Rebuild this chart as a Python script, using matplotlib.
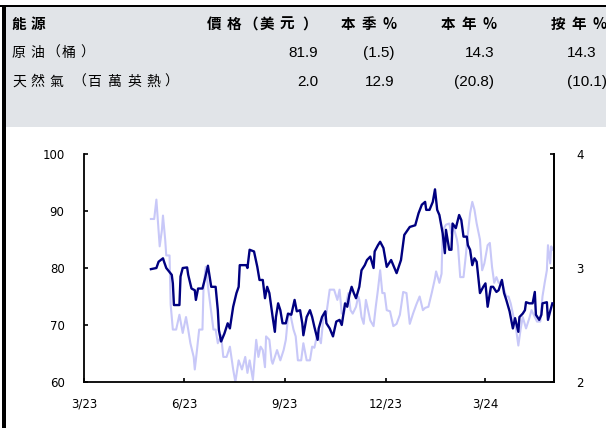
import matplotlib
matplotlib.use('Agg')
import matplotlib.pyplot as plt
import pandas as pd
from matplotlib.patches import Rectangle

# table
headers = ['能源', '價格（美元）', '本季%', '本年%', '按年%']
names = ['原油（桶）', '天然氣（百萬英熱）']
price = ['81.9', '2.0']
qtr_chg = ['(1.5)', '12.9']
ytd_chg = ['14.3', '(20.8)']
yoy_chg = ['14.3', '(10.1)']

# crude oil, USD/bbl (left axis)
oil_dates = ['2023-05-31', '2023-06-05', '2023-06-07', '2023-06-11', '2023-06-12', '2023-06-14',
             '2023-06-19', '2023-06-20', '2023-06-21', '2023-06-26', '2023-06-27', '2023-06-29',
             '2023-07-03', '2023-07-04', '2023-07-07', '2023-07-10', '2023-07-11', '2023-07-13',
             '2023-07-17', '2023-07-19', '2023-07-22', '2023-07-24', '2023-07-25', '2023-07-29',
             '2023-07-31', '2023-08-01', '2023-08-03', '2023-08-06', '2023-08-09', '2023-08-11',
             '2023-08-14', '2023-08-17', '2023-08-19', '2023-08-20', '2023-08-26', '2023-08-27',
             '2023-08-29', '2023-09-02', '2023-09-05', '2023-09-07', '2023-09-10', '2023-09-12',
             '2023-09-14', '2023-09-16', '2023-09-19', '2023-09-21', '2023-09-22', '2023-09-24',
             '2023-09-26', '2023-09-28', '2023-10-01', '2023-10-03', '2023-10-06', '2023-10-09',
             '2023-10-11', '2023-10-14', '2023-10-16', '2023-10-17', '2023-10-20', '2023-10-23',
             '2023-10-25', '2023-10-27', '2023-10-30', '2023-10-31', '2023-11-03', '2023-11-06',
             '2023-11-07', '2023-11-10', '2023-11-13', '2023-11-16', '2023-11-19', '2023-11-21',
             '2023-11-24', '2023-11-26', '2023-11-28', '2023-11-30', '2023-12-02', '2023-12-04',
             '2023-12-07', '2023-12-09', '2023-12-12', '2023-12-14', '2023-12-17', '2023-12-20',
             '2023-12-21', '2023-12-24', '2023-12-26', '2023-12-29', '2024-01-01', '2024-01-05',
             '2024-01-10', '2024-01-14', '2024-01-17', '2024-01-22', '2024-01-27', '2024-01-30',
             '2024-02-02', '2024-02-05', '2024-02-06', '2024-02-09', '2024-02-12', '2024-02-14',
             '2024-02-16', '2024-02-18', '2024-02-21', '2024-02-23', '2024-02-24', '2024-02-27',
             '2024-02-29', '2024-03-01', '2024-03-04', '2024-03-07', '2024-03-09', '2024-03-11',
             '2024-03-14', '2024-03-15', '2024-03-17', '2024-03-19', '2024-03-21', '2024-03-23',
             '2024-03-26', '2024-03-29', '2024-03-31', '2024-04-02', '2024-04-05', '2024-04-07',
             '2024-04-10', '2024-04-12', '2024-04-15', '2024-04-17', '2024-04-19', '2024-04-22',
             '2024-04-25', '2024-04-27', '2024-04-30', '2024-05-01', '2024-05-04', '2024-05-06',
             '2024-05-07', '2024-05-10', '2024-05-13', '2024-05-15', '2024-05-16', '2024-05-19',
             '2024-05-21', '2024-05-22', '2024-05-26', '2024-05-27', '2024-05-29', '2024-05-31']
oil_price = [79.8, 80.0, 81.1, 81.7, 81.1, 80.0,
             78.8, 77.3, 73.5, 73.5, 78.5, 80.0,
             80.1, 78.8, 76.4, 76.1, 74.4, 76.4,
             76.4, 77.9, 80.4, 77.9, 76.7, 76.7,
             72.6, 69.1, 67.1, 68.5, 70.3, 69.4,
             73.2, 75.6, 76.7, 80.5, 80.5, 80.0,
             83.2, 82.9, 80.2, 77.9, 77.9, 74.7,
             76.7, 75.6, 71.4, 68.8, 71.4, 73.8,
             72.6, 70.3, 70.3, 72.0, 71.8, 74.4,
             72.4, 72.6, 70.3, 68.2, 71.4, 72.6,
             71.4, 69.7, 67.4, 69.4, 71.4, 72.4,
             70.3, 69.4, 68.0, 70.6, 70.9, 70.0,
             73.8, 73.2, 75.3, 76.7, 75.6, 74.7,
             76.7, 79.6, 80.5, 81.4, 82.0, 80.0,
             82.9, 84.0, 84.6, 83.5, 80.2, 81.4,
             79.1, 81.4, 85.8, 87.2, 87.5, 89.6,
             91.1, 91.6, 90.2, 90.2, 91.6, 93.8,
             90.2, 89.3, 86.1, 82.6, 86.7, 83.2,
             83.2, 87.8, 87.0, 89.3, 88.4, 85.5,
             85.5, 84.0, 83.2, 80.5, 81.7, 81.1,
             75.6, 76.7, 77.3, 73.2, 76.7, 76.7,
             75.8, 76.1, 77.9, 75.6, 74.4, 72.4,
             69.4, 71.2, 68.8, 71.4, 72.0, 72.6,
             74.0, 73.8, 73.8, 75.8, 71.8, 70.9,
             71.8, 73.8, 74.0, 70.9, 72.4, 73.8]

# natural gas, USD/mmBtu (right axis)
gas_dates = ['2023-05-31', '2023-06-03', '2023-06-05', '2023-06-07', '2023-06-08', '2023-06-10',
             '2023-06-11', '2023-06-13', '2023-06-14', '2023-06-17', '2023-06-18', '2023-06-20',
             '2023-06-23', '2023-06-26', '2023-06-29', '2023-07-02', '2023-07-04', '2023-07-06',
             '2023-07-09', '2023-07-10', '2023-07-12', '2023-07-14', '2023-07-17', '2023-07-18',
             '2023-07-20', '2023-07-22', '2023-07-24', '2023-07-27', '2023-07-29', '2023-07-31',
             '2023-08-03', '2023-08-05', '2023-08-08', '2023-08-11', '2023-08-14', '2023-08-16',
             '2023-08-19', '2023-08-22', '2023-08-25', '2023-08-27', '2023-08-29', '2023-09-01',
             '2023-09-04', '2023-09-06', '2023-09-08', '2023-09-10', '2023-09-12', '2023-09-13',
             '2023-09-16', '2023-09-18', '2023-09-19', '2023-09-23', '2023-09-26', '2023-09-29',
             '2023-10-01', '2023-10-03', '2023-10-05', '2023-10-08', '2023-10-10', '2023-10-12',
             '2023-10-15', '2023-10-17', '2023-10-20', '2023-10-23', '2023-10-25', '2023-10-27',
             '2023-10-30', '2023-11-02', '2023-11-04', '2023-11-07', '2023-11-10', '2023-11-14',
             '2023-11-17', '2023-11-19', '2023-11-21', '2023-11-23', '2023-11-25', '2023-11-27',
             '2023-11-29', '2023-12-01', '2023-12-04', '2023-12-06', '2023-12-07', '2023-12-09',
             '2023-12-11', '2023-12-13', '2023-12-15', '2023-12-17', '2023-12-20', '2023-12-22',
             '2023-12-24', '2023-12-26', '2023-12-28', '2023-12-30', '2024-01-01', '2024-01-04',
             '2024-01-07', '2024-01-10', '2024-01-13', '2024-01-16', '2024-01-19', '2024-01-22',
             '2024-01-25', '2024-01-28', '2024-01-31', '2024-02-03', '2024-02-05', '2024-02-08',
             '2024-02-11', '2024-02-14', '2024-02-15', '2024-02-18', '2024-02-20', '2024-02-21',
             '2024-02-24', '2024-02-27', '2024-02-29', '2024-03-02', '2024-03-05', '2024-03-06',
             '2024-03-08', '2024-03-11', '2024-03-13', '2024-03-15', '2024-03-17', '2024-03-19',
             '2024-03-21', '2024-03-23', '2024-03-26', '2024-03-28', '2024-03-30', '2024-04-02',
             '2024-04-04', '2024-04-06', '2024-04-08', '2024-04-10', '2024-04-12', '2024-04-15',
             '2024-04-17', '2024-04-19', '2024-04-21', '2024-04-23', '2024-04-25', '2024-04-28',
             '2024-04-30', '2024-05-02', '2024-05-04', '2024-05-07', '2024-05-10', '2024-05-12',
             '2024-05-15', '2024-05-17', '2024-05-20', '2024-05-22', '2024-05-24', '2024-05-26',
             '2024-05-27', '2024-05-29', '2024-05-30', '2024-05-31']
gas_price = [3.43, 3.43, 3.60, 3.33, 3.19, 3.33,
             3.46, 3.25, 3.11, 3.11, 2.68, 2.46,
             2.46, 2.59, 2.43, 2.57, 2.46, 2.34,
             2.22, 2.11, 2.28, 2.46, 2.46, 2.84,
             3.01, 2.84, 2.69, 2.46, 2.46, 2.34,
             2.41, 2.22, 2.22, 2.31, 2.11, 2.00,
             2.19, 2.11, 2.22, 2.08, 2.19, 2.02,
             2.37, 2.22, 2.31, 2.28, 2.13, 2.40,
             2.37, 2.19, 2.16, 2.28, 2.19, 2.28,
             2.37, 2.57, 2.60, 2.46, 2.40, 2.19,
             2.19, 2.34, 2.19, 2.19, 2.31, 2.30,
             2.43, 2.34, 2.54, 2.60, 2.81, 2.81,
             2.72, 2.81, 2.60, 2.60, 2.69, 2.78,
             2.63, 2.60, 2.66, 2.75, 2.72, 2.57,
             2.51, 2.72, 2.63, 2.54, 2.49, 2.66,
             2.81, 2.98, 2.78, 2.78, 2.63, 2.62,
             2.49, 2.51, 2.59, 2.79, 2.78, 2.51,
             2.60, 2.68, 2.75, 2.63, 2.65, 2.66,
             2.78, 2.91, 2.97, 2.87, 2.95, 3.33,
             3.38, 3.39, 3.30, 3.36, 3.25, 3.19,
             2.92, 2.92, 3.10, 3.30, 3.48, 3.58,
             3.51, 3.39, 3.25, 2.98, 3.04, 3.20,
             3.22, 3.01, 2.87, 2.92, 2.87, 2.88,
             2.81, 2.75, 2.75, 2.69, 2.60, 2.46,
             2.32, 2.46, 2.57, 2.47, 2.56, 2.63,
             2.57, 2.53, 2.53, 2.75, 2.87, 2.98,
             3.20, 3.04, 3.19, 3.16]

tick_dates = ['2023-03-31', '2023-06-30', '2023-09-30', '2023-12-31', '2024-03-31']
tick_labels = ['3/23', '6/23', '9/23', '12/23', '3/24']

W, H = 606, 428
cjk = ['Noto Sans CJK TC', 'DejaVu Sans']
num_font = 'Liberation Sans'

fig = plt.figure(figsize=(W / 100, H / 100), dpi=100)

def fx(x):
    return x / W

def fy(y):
    return 1 - y / H

def glyphs(xs, y, s, **kw):
    # draw CJK text one glyph at a time so the wide letter spacing matches
    for x, ch in zip(xs, s):
        fig.text(fx(x), fy(y), ch, family=cjk, ha='center', va='center', **kw)

def spaced(x0, y, s, pitch, **kw):
    glyphs([x0 + pitch * (i + 0.5) for i in range(len(s))], y, s, **kw)

# grey table panel + borders
fig.patches.append(Rectangle((fx(4), fy(127)), 1, fy(7) - fy(127), transform=fig.transFigure,
                             facecolor='#e1e4e8', edgecolor='none', zorder=0))
fig.patches.append(Rectangle((0, fy(7)), 1, fy(5) - fy(7), transform=fig.transFigure,
                             facecolor='black', edgecolor='none', zorder=1))
fig.patches.append(Rectangle((fx(2), 0), fx(4), fy(5), transform=fig.transFigure,
                             facecolor='black', edgecolor='none', zorder=1))

# header row
hdr = dict(fontsize=10.5, fontweight='bold')
spaced(9, 24, headers[0], 19.5, **hdr)
glyphs([214, 234, 251, 267, 287, 310], 24, headers[1], **hdr)
spaced(338, 24, headers[2], 20.5, **hdr)
spaced(437, 24, headers[3], 21, **hdr)
spaced(548, 24, headers[4], 20.5, **hdr)

# row labels
glyphs([18.5, 37.5, 53.5, 69, 87.5], 53, names[0], fontsize=10)
glyphs([19, 37.5, 56, 79, 94, 114, 134, 153.5, 171], 82, names[1], fontsize=10)

row_y = [53, 82]
for i in range(2):
    y = fy(row_y[i])
    fig.text(fx(318), y, price[i], family=num_font, fontsize=11, va='center', ha='right')
    fig.text(fx(394), y, qtr_chg[i], family=num_font, fontsize=11, va='center', ha='right')
    fig.text(fx(494), y, ytd_chg[i], family=num_font, fontsize=11, va='center', ha='right')
    fig.text(fx(567), y, yoy_chg[i], family=num_font, fontsize=11, va='center', ha='left')

# chart
ax = fig.add_axes([fx(84), fy(382), fx(554) - fx(84), fy(154) - fy(382)])
ax2 = ax.twinx()

ax.plot(pd.to_datetime(oil_dates), oil_price, color='#000080', lw=1.7, zorder=3)
ax2.plot(pd.to_datetime(gas_dates), gas_price, color='#c8c8f8', lw=1.5, zorder=2)

ax.set_zorder(ax2.get_zorder() + 1)
ax.patch.set_visible(False)

ax.set_xlim(pd.Timestamp('2023-03-31'), pd.Timestamp('2024-06-01 12:00'))
ax.set_ylim(60, 100)
ax.set_yticks([60, 70, 80, 90, 100])
ax2.set_ylim(2, 4)
ax2.set_yticks([2, 3, 4])

ax.set_xticks(pd.to_datetime(tick_dates))
ax.set_xticklabels(tick_labels)

for a in (ax, ax2):
    a.spines['top'].set_visible(False)
    for s in a.spines.values():
        s.set_linewidth(1.3)
    a.tick_params(direction='in', length=3, width=1.2, labelsize=8.5, colors='black')
ax.tick_params(axis='y', pad=14)
ax.tick_params(axis='x', pad=11)
ax2.tick_params(axis='y', pad=16)
ax2.spines['left'].set_visible(False)
ax2.spines['bottom'].set_visible(False)

fig.savefig('out.png', dpi=100)
